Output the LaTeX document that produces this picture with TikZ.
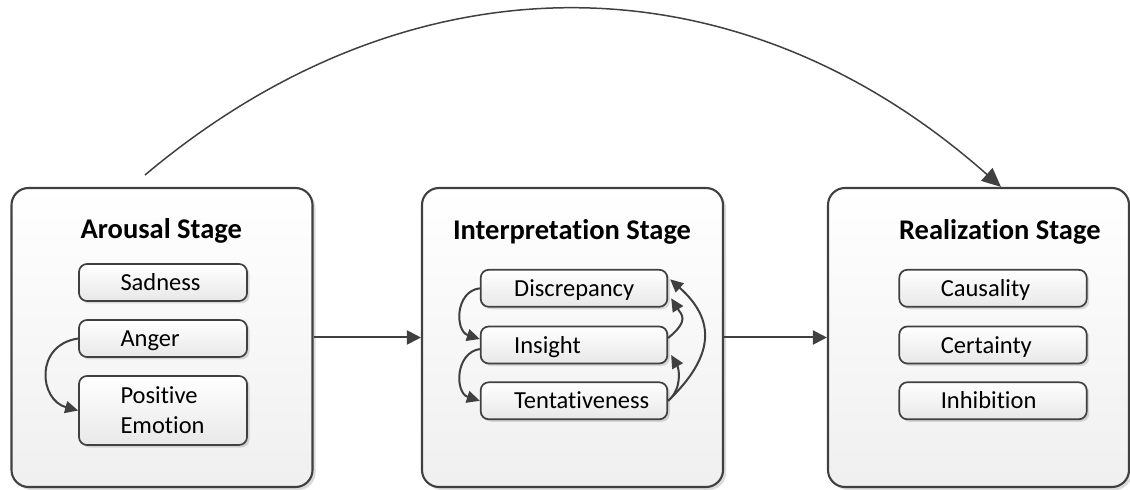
\documentclass[tikz,border=0pt]{standalone}
\usepackage{fontspec}
\setmainfont{Carlito}[Ligatures=NoCommon]
\usetikzlibrary{arrows.meta,shadows}
\definecolor{ink}{HTML}{404040}
\begin{document}
\begin{tikzpicture}[x=1bp,y=-1bp,
  stagebox/.style={draw=ink, line width=2.1bp, rounded corners=17bp,
    top color=white, bottom color=black!6,
    minimum width=301bp, minimum height=299bp, inner sep=0pt,
    drop shadow={shadow xshift=3bp, shadow yshift=-3bp, fill=black, opacity=0.14}},
  stagetitle/.style={inner sep=0pt, anchor=base,
    font=\fontsize{28.5bp}{34bp}\selectfont\bfseries},
  inbox/.style={draw=ink, line width=1.7bp, rounded corners=8bp,
    top color=white, bottom color=black!9,
    minimum height=37bp, inner xsep=0pt, inner ysep=0pt, align=left,
    text height=16bp, text depth=0bp,
    font=\fontsize{24.5bp}{29.7bp}\selectfont,
    drop shadow={shadow xshift=2.5bp, shadow yshift=-2.5bp, fill=black, opacity=0.13}},
  stagearrow/.style={draw=ink, line width=2bp, -{Triangle[length=14bp,width=14bp]}},
  cycarrow/.style={draw=ink, line width=2bp, -{Triangle[length=13bp,width=12bp]}},
  jumparrow/.style={draw=ink, line width=1.5bp, -{Triangle[length=19bp,width=17bp]}}
]
\useasboundingbox (0,0) rectangle (1130,490);

% the three stages
\node[stagebox] (s1) at (162,337.5) {};
\node[stagebox] (s2) at (572.5,337.5) {};
\node[stagebox] (s3) at (978.5,337.5) {};

\node[stagetitle] (t1) at (161.3,238.3) {Arousal Stage};
\node[stagetitle] (t2) at (572,240) {Interpretation Stage};
\node[stagetitle] (t3) at (999.8,239.3) {Realization Stage};

% arousal stage items
\node[inbox, text width=168bp] (sad) at (163,282.5) {\hspace*{41.5bp}Sadness};
\node[inbox, text width=168bp] (ang) at (163,338.5) {\hspace*{41.5bp}Anger};
\node[inbox, text width=168bp, minimum height=69bp, text depth=29.7bp] (pe) at (163,410.5)
  {\hspace*{41.5bp}Positive\\\hspace*{41.5bp}Emotion};

% interpretation stage items
\node[inbox, text width=186.6bp] (disc) at (574,288.3) {\hspace*{33.5bp}Discrepancy};
\node[inbox, text width=186.6bp] (ins) at (574,345) {\hspace*{33.5bp}Insight};
\node[inbox, text width=186.6bp] (tent) at (574,400.8) {\hspace*{33.5bp}Tentativeness};

% realization stage items
\node[inbox, text width=187.4bp] (caus) at (993,288.3) {\hspace*{41.5bp}Causality};
\node[inbox, text width=187.4bp] (cert) at (993,345) {\hspace*{41.5bp}Certainty};
\node[inbox, text width=187.4bp] (inh) at (993,400.8) {\hspace*{41.5bp}Inhibition};

% stage to stage
\draw[stagearrow] (s1.east) -- (s2.west);
\draw[stagearrow] (s2.east) -- (s3.west);

% long jump from arousal to realization
\coordinate (arcA) at (145,175);
\coordinate (arcB) at ([xshift=22.5bp]s3.north);
\draw[jumparrow] (arcA) .. controls (410,-48) and (736,-48) .. (arcB);

% links inside the arousal stage
\draw[cycarrow] (ang.west) .. controls +(-44,6.5) and +(-39,-10.5) .. (pe.west);

% links inside the interpretation stage
\draw[cycarrow] (disc.west) .. controls +(-25,3) and +(-25,-8) .. ([yshift=6bp]ins.west);
\draw[cycarrow] ([yshift=-4bp]ins.west) .. controls +(-25,4) and +(-25,-8) .. (tent.west);
\draw[cycarrow] ([yshift=7bp]ins.east) .. controls +(22,-18) and +(10,16) .. ([xshift=3bp,yshift=-10bp]disc.east);
\draw[cycarrow] (tent.east) .. controls +(14,-12) and +(8,14) .. ([xshift=3bp,yshift=-10bp]ins.east);
\draw[cycarrow] (tent.east) .. controls +(46.7,-45) and +(45.7,40.7) .. ([xshift=2bp,yshift=9bp]disc.east);
\end{tikzpicture}
\end{document}
